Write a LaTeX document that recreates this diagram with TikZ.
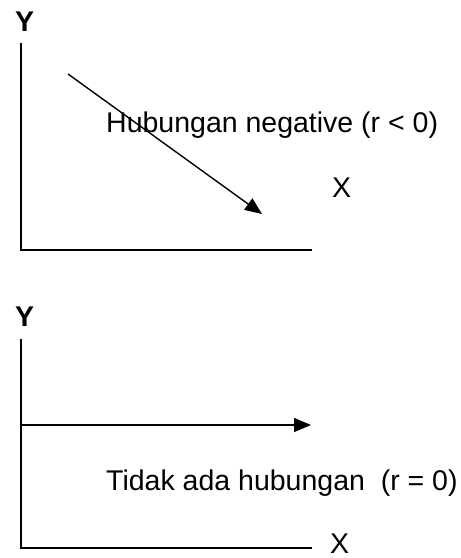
\documentclass[tikz,border=0pt]{standalone}
\usepackage{fontspec}
\setmainfont{Liberation Sans}
\usepackage{tikz}
\usetikzlibrary{arrows.meta, positioning}

\begin{document}
\begin{tikzpicture}[x=1pt, y=-1pt, font=\fontsize{28.5}{32}\selectfont,
    axisline/.style={line width=2pt},
    trend/.style={-{Triangle[length=17pt, width=14pt]}, line width=1.4pt},
    lbl/.style={anchor=base west, inner sep=0pt},
    axlbl/.style={lbl, font=\fontsize{28.5}{32}\selectfont\bfseries},
  ]
    \useasboundingbox (0,0) rectangle (461,558);

    % Top: negative relation
    \coordinate (ytopA) at (20.7,43);
    \coordinate (origA) at (20.7,250);
    \coordinate (xendA) at (312,250);
    \coordinate (negS)  at (68,74);
    \coordinate (negE)  at (262,214);
    \node[axlbl] (ylabA) at (15,31)  {Y};
    \node[lbl]   (xlabA) at (332,197) {X};
    \node[lbl]   (negtx) at (106,132) {Hubungan negative (r < 0)};

    \draw[axisline] (ytopA) -- (origA) -- (xendA);
    \draw[trend] (negS) -- (negE);

    % Bottom: no relation
    \coordinate (ytopB) at (20.7,339);
    \coordinate (origB) at (20.7,548);
    \coordinate (xendB) at (312,548);
    \coordinate (zeroS) at (20.7,425);
    \coordinate (zeroE) at (311,425);
    \node[axlbl] (ylabB) at (15,326)  {Y};
    \node[lbl]   (xlabB) at (330,553) {X};
    \node[lbl]   (zerotx) at (106,490) {Tidak ada hubungan \ (r = 0)};

    \draw[axisline] (ytopB) -- (origB) -- (xendB);
    \draw[trend] (zeroS) -- (zeroE);
\end{tikzpicture}
\end{document}
